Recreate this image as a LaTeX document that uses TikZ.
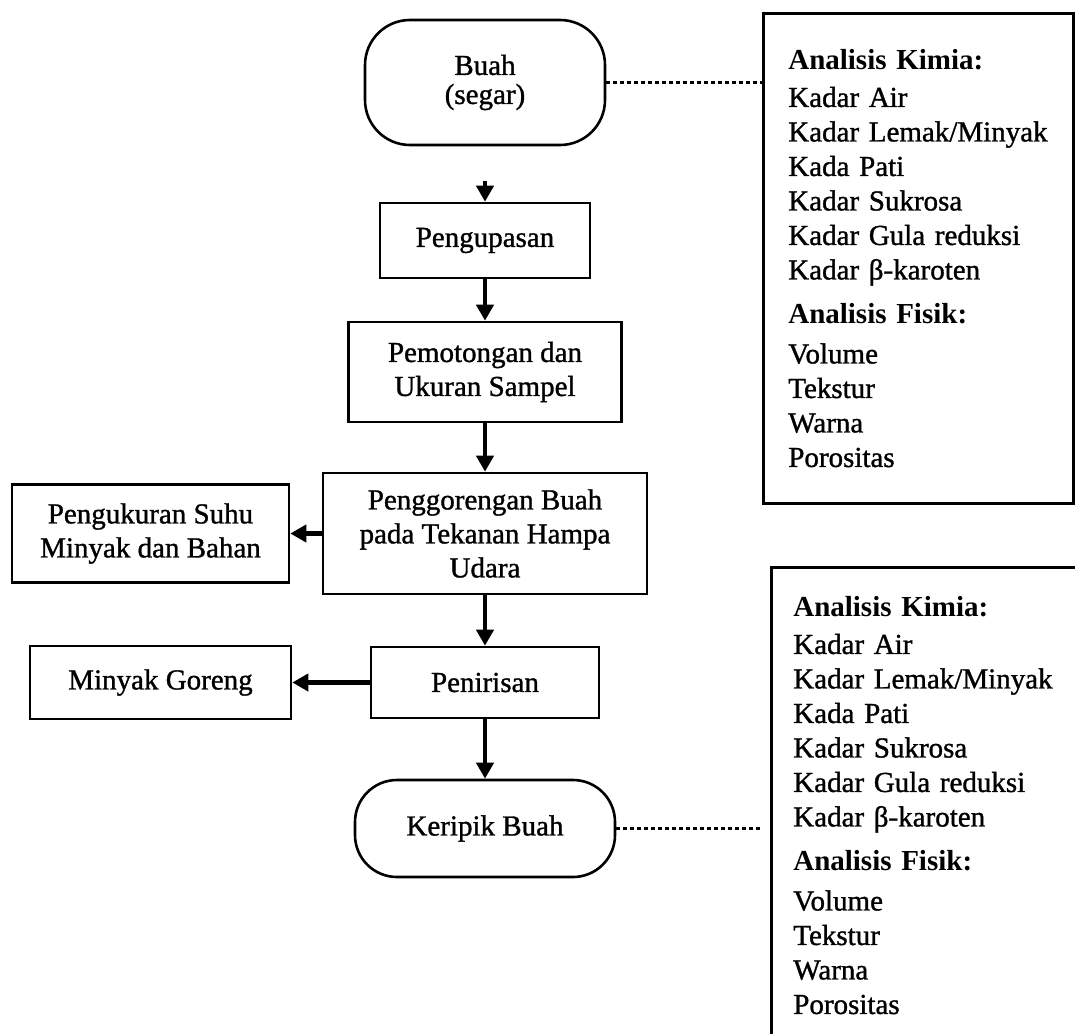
\documentclass[tikz,border=0pt]{standalone}
\usepackage{fontspec}
\setmainfont{Liberation Serif}[UprightFeatures={FakeBold=1.1}]
\usetikzlibrary{positioning, arrows.meta}

\begin{document}
\begin{tikzpicture}[node distance=50pt, >={Triangle[length=16pt,width=17pt]},
		proses/.style={draw, line width=2.6pt, rectangle, align=center, inner sep=0pt, font=\fontsize{29pt}{34pt}\selectfont},
		ujung/.style={proses, rounded corners=45pt},
		analisis/.style={draw, line width=2.6pt, rectangle, align=left, anchor=north west, inner ysep=0pt, font=\fontsize{29pt}{34.5pt}\selectfont},
		panah/.style={->, line width=4.5pt},
		titik/.style={line width=3pt, dash pattern=on 3.5pt off 3.5pt}]
			\useasboundingbox (0,0) rectangle (1075pt,-1033pt);
			% alur proses
			\node (buah) [ujung, minimum width=240pt, minimum height=125pt, font=\fontsize{29pt}{29pt}\selectfont] at (485pt,-82.5pt) {Buah\\(segar)};
			\node (kupas) [proses, minimum width=210pt, minimum height=75pt, below=55.4pt of buah] {Pengupasan};
			\node (potong) [proses, minimum width=273pt, minimum height=100pt, below=41.4pt of kupas] {Pemotongan dan\\Ukuran Sampel};
			\node (goreng) [proses, minimum width=324pt, minimum height=121pt, below=48.4pt of potong] {Penggorengan Buah\\pada Tekanan Hampa\\Udara};
			\node (ukur) [proses, minimum width=277pt, minimum height=98pt, left=31.4pt of goreng] {Pengukuran Suhu\\Minyak dan Bahan};
			\node (tiris) [proses, minimum width=228pt, minimum height=71pt, below=50.4pt of goreng] {Penirisan};
			\node (minyak) [proses, minimum width=261pt, minimum height=73pt, left=77.4pt of tiris] {Minyak Goreng};
			\node (keripik) [ujung, rounded corners=42pt, minimum width=260pt, minimum height=97pt, below=59.4pt of tiris] {Keripik Buah};
			% kotak analisis
			\node (analisisA) [analisis, minimum width=310pt, minimum height=490pt, text width=260pt, inner xsep=25pt] at (762pt,-12pt) {\textbf{Analisis Kimia:}\\[3pt]
				Kadar Air\\ Kadar Lemak/Minyak\\ Kada Pati\\ Kadar Sukrosa\\ Kadar Gula reduksi\\ Kadar β-karoten\\[10pt]
				\textbf{Analisis Fisik:}\\[5pt]
				Volume\\ Tekstur\\ Warna\\ Porositas};
			\node (analisisB) [analisis, minimum width=330pt, minimum height=476pt, text width=286pt, inner xsep=22pt] at (770pt,-566pt) {\textbf{Analisis Kimia:}\\[3pt]
				Kadar Air\\ Kadar Lemak/Minyak\\ Kada Pati\\ Kadar Sukrosa\\ Kadar Gula reduksi\\ Kadar β-karoten\\[10pt]
				\textbf{Analisis Fisik:}\\[5pt]
				Volume\\ Tekstur\\ Warna\\ Porositas};
			% panah
			\draw[panah, shorten <=35pt] (buah) -- (kupas);
			\draw[panah] (kupas) -- (potong);
			\draw[panah] (potong) -- (goreng);
			\draw[panah] (goreng) -- (ukur);
			\draw[panah] (goreng) -- (tiris);
			\draw[panah] (tiris) -- (minyak);
			\draw[panah] (tiris) -- (keripik);
			\draw[titik] (buah.east) -- (buah.east -| analisisA.west);
			\draw[titik, shorten >=10pt] (keripik.east) -- (keripik.east -| analisisB.west);
		\end{tikzpicture}
\end{document}
